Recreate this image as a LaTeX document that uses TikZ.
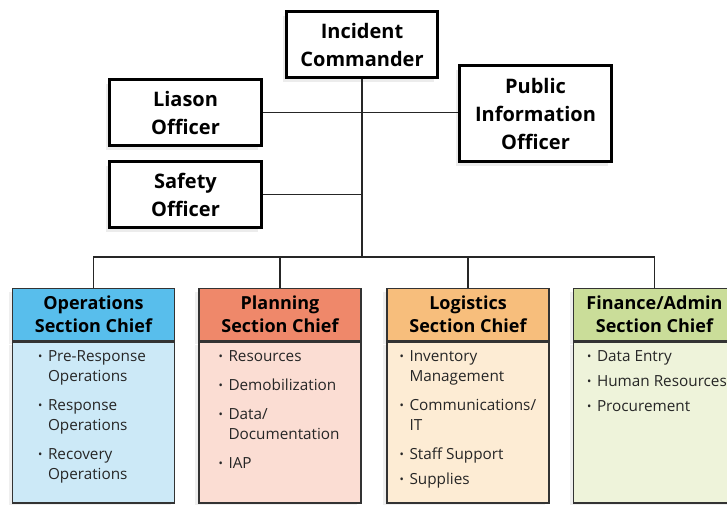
\documentclass[tikz,border=0pt]{standalone}
\usepackage{fontspec}
\setmainfont{Open Sans}
\usetikzlibrary{positioning,shadows}

\definecolor{opshead}{RGB}{88,190,236}
\definecolor{opsbody}{RGB}{204,233,247}
\definecolor{planhead}{RGB}{239,136,106}
\definecolor{planbody}{RGB}{251,221,211}
\definecolor{loghead}{RGB}{247,190,124}
\definecolor{logbody}{RGB}{253,236,212}
\definecolor{finhead}{RGB}{202,221,153}
\definecolor{finbody}{RGB}{238,243,218}

\newcommand\bul{\makebox[10pt][l]{\raisebox{.08em}{\scalebox{.75}{\textbullet}}}}
\newcommand\ind{\hspace*{10pt}}

\begin{document}
\begin{tikzpicture}[x=1pt, y=-1pt,
  officer/.style={draw, line width=2.6pt, fill=white, align=center,
    font=\fontsize{20}{28}\selectfont\bfseries,
    drop shadow={shadow xshift=-4pt, shadow yshift=-4pt, fill=black!15}},
  chief/.style={draw=black!80, line width=1.4pt, minimum width=162pt, minimum height=52pt,
    align=center, inner sep=0pt, font=\fontsize{18}{23}\selectfont\bfseries,
    drop shadow={shadow xshift=-4pt, shadow yshift=-3pt, fill=black!12}},
  duties/.style={draw=black!80, line width=1.4pt, minimum width=162pt, minimum height=161pt,
    inner sep=0pt, below=0pt of #1,
    drop shadow={shadow xshift=-4pt, shadow yshift=-3pt, fill=black!12}},
  items/.style={align=left, inner sep=0pt, anchor=north west, text=black!85,
    font=\fontsize{15.3}{20}\selectfont},
  link/.style={line width=1.3pt, draw=black!85}]

\useasboundingbox (0,0) rectangle (727,504);
\clip (0,0) rectangle (727,504);

% command staff
\node [officer, minimum width=151pt, minimum height=66pt] (ic)  at (362,44.5)  {Incident\\Commander};
\node [officer, minimum width=152pt, minimum height=66pt] (lo)  at (185.5,112.5) {Liason\\Officer};
\node [officer, minimum width=152pt, minimum height=66pt] (so)  at (185.5,194.5) {Safety\\Officer};
\node [officer, minimum width=152pt, minimum height=96pt] (pio) at (535.5,113.5) {Public\\Information\\Officer};

% general staff
\node [chief, fill=opshead]  (ops)  at (93.5,314.5) {Operations\\Section Chief};
\node [chief, fill=planhead] (plan) at (280,314.5)  {Planning\\Section Chief};
\node [chief, fill=loghead]  (log)  at (468,314.5)  {Logistics\\Section Chief};
\node [chief, fill=finhead]  (fin)  at (654.5,314.5) {Finance/Admin\\Section Chief};

\node [duties=ops,  fill=opsbody]  (opsb)  {};
\node [duties=plan, fill=planbody] (planb) {};
\node [duties=log,  fill=logbody]  (logb)  {};
\node [duties=fin,  fill=finbody]  (finb)  {};

\node [items] (opst) at ([xshift=26pt,yshift=-9pt]opsb.north west)
  {\bul Pre-Response\\\ind Operations\\[9pt]\bul Response\\\ind Operations\\[9pt]\bul Recovery\\\ind Operations};
\node [items] (plant) at ([xshift=20pt,yshift=-9pt]planb.north west)
  {\bul Resources\\[9pt]\bul Demobilization\\[9pt]\bul Data/\\\ind Documentation\\[9pt]\bul IAP};
\node [items] (logt) at ([xshift=13pt,yshift=-9pt]logb.north west)
  {\bul Inventory\\\ind Management\\[9pt]\bul Communications/\\\ind IT\\[9pt]\bul Staff Support\\[5pt]\bul Supplies};
\node [items] (fint) at ([xshift=14pt,yshift=-9pt]finb.north west)
  {\bul Data Entry\\[5pt]\bul Human Resources\\[5pt]\bul Procurement};

% connectors
\coordinate (bus) at (362,257);
\path [link]
  (ic.south) edge (bus)
  (lo.east) edge (lo.east -| pio.west)
  (so.east) edge (so.east -| ic.south)
  (plan.north) edge (plan.north |- bus)
  (log.north) edge (log.north |- bus);
\draw [link] (ops.north) |- (bus) -| (fin.north);

\end{tikzpicture}
\end{document}
